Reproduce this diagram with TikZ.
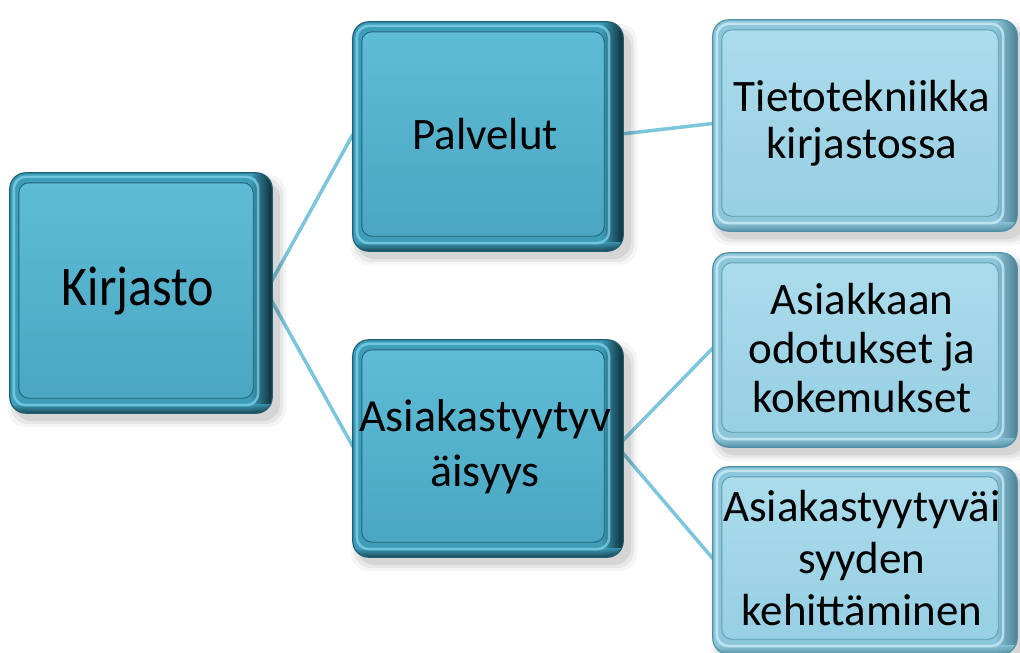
\documentclass[tikz,border=0pt]{standalone}
\usepackage{fontspec}
\usepackage{graphicx}
\setmainfont{Carlito}
\usetikzlibrary{calc}

\pgfdeclarelayer{links}
\pgfdeclarelayer{bodies}
\pgfsetlayers{links,bodies,main}

\definecolor{linkc}{HTML}{7CC6DB}
% dark cards
\definecolor{dkrim}{HTML}{3E9DB9}
\definecolor{dkedge}{HTML}{1F5E71}
\definecolor{dkside}{HTML}{0C2830}
\definecolor{dkhi}{HTML}{86D8EE}
\definecolor{dkline}{HTML}{22647A}
\definecolor{darktop}{HTML}{5FBCD6}
\definecolor{darkbot}{HTML}{4AA6C2}
% light cards
\definecolor{ltrim}{HTML}{8CC6DA}
\definecolor{ltedge}{HTML}{4F8FA5}
\definecolor{ltside}{HTML}{4A7E92}
\definecolor{lthi}{HTML}{D6F2FA}
\definecolor{ltline}{HTML}{5E9DB2}
\definecolor{lighttop}{HTML}{ABDCEC}
\definecolor{lightbot}{HTML}{97CFE3}

\tikzset{
  card/.style={rectangle, inner sep=0pt, align=center, text=black},
  link/.style={linkc, line width=3.5pt},
}

% Bevelled 3-D card behind a named node:
% #1 node, #2/#3 face colours (top/bottom), #4 rim colour prefix (dk or lt)
\newcommand\cardbody[4]{%
  \begin{pgfonlayer}{bodies}
    % soft drop shadow
    \foreach \s/\o in {10/0.04,7/0.06,4/0.08}{
      \fill[black, opacity=\o, rounded corners=18pt]
        ($(#1.north west)+(8-\s,12-\s)$) rectangle ($(#1.south east)+(10+\s,8+\s)$);
    }
    % body with extruded right and bottom side
    \fill[#4rim, rounded corners=16pt]
      (#1.north west) rectangle ($(#1.south east)+(6,4)$);
    \begin{scope}
      \clip[rounded corners=16pt] (#1.north west) rectangle ($(#1.south east)+(6,4)$);
      \shade[left color=#4rim, right color=#4side]
        ($(#1.north east)+(-16,0)$) rectangle ($(#1.south east)+(7,5)$);
      \shade[top color=#4rim, bottom color=#4side, opacity=.8]
        ($(#1.south west)+(0,-5)$) rectangle ($(#1.south east)+(7,5)$);
    \end{scope}
    \draw[#4edge, line width=1.2pt, rounded corners=16pt]
      (#1.north west) rectangle ($(#1.south east)+(6,4)$);
    % bright bevel band
    \draw[#4hi, opacity=.7, line width=2.5pt, rounded corners=12pt]
      ($(#1.north west)+(4,4)$) rectangle ($(#1.south east)+(-8,-4)$);
    % face
    \shade[top color=#2, bottom color=#3, rounded corners=10pt,
           draw=#4line, line width=0.9pt]
      ($(#1.north west)+(9,10)$) rectangle ($(#1.south east)+(-13,-11)$);
  \end{pgfonlayer}
}

\begin{document}
\begin{tikzpicture}[x=1pt, y=-1pt]
  \useasboundingbox (0,0) rectangle (1020,653);

  % cards
  \node[card, minimum width=256pt, minimum height=236pt,
        font=\fontsize{50}{56}\selectfont] (kir) at (138,291)
        {\scalebox{1}[1.12]{Kirjasto}};
  \node[card, minimum width=264pt, minimum height=225pt,
        font=\fontsize{45}{49}\selectfont] (pal) at (485,134.5) {Palvelut};
  \node[card, minimum width=264pt, minimum height=213pt,
        font=\fontsize{46}{55}\selectfont] (asi) at (485,446.5) {Asiakastyytyv\\äisyys};
  \node[card, minimum width=298pt, minimum height=207pt,
        font=\fontsize{45}{47}\selectfont] (tie) at (862,123.5) {Tietotekniikka\\kirjastossa};
  \node[card, minimum width=298pt, minimum height=190pt,
        font=\fontsize{45}{49}\selectfont] (odo) at (862,348) {Asiakkaan\\odotukset ja\\kokemukset};
  \node[card, minimum width=298pt, minimum height=183pt,
        font=\fontsize{45}{52}\selectfont] (keh) at (862,558.5) {Asiakastyytyväi\\syyden\\kehittäminen};

  \cardbody{kir}{darktop}{darkbot}{dk}
  \cardbody{pal}{darktop}{darkbot}{dk}
  \cardbody{asi}{darktop}{darkbot}{dk}
  \cardbody{tie}{lighttop}{lightbot}{lt}
  \cardbody{odo}{lighttop}{lightbot}{lt}
  \cardbody{keh}{lighttop}{lightbot}{lt}

  % connectors
  \begin{pgfonlayer}{links}
    \draw[link] (kir.east) -- (pal.west);
    \draw[link] (kir.east) -- (asi.west);
    \draw[link] (pal.east) -- (tie.west);
    \draw[link] (asi.east) -- (odo.west);
    \draw[link] (asi.east) -- (keh.west);
  \end{pgfonlayer}
\end{tikzpicture}
\end{document}
